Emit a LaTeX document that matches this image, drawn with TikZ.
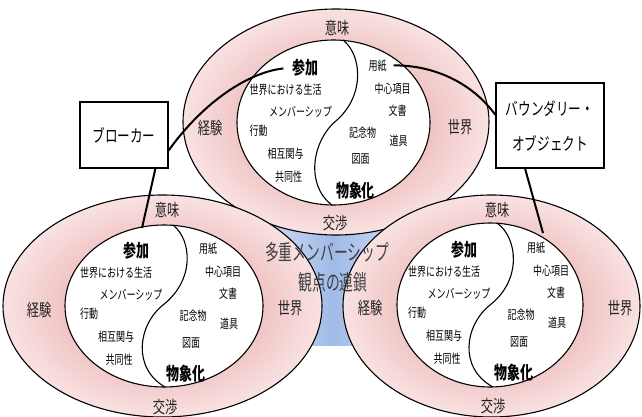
\documentclass[tikz,border=0pt]{standalone}
\usepackage{fontspec}
\newfontfamily\jp[FakeStretch=0.72]{Noto Sans CJK JP}
\newfontfamily\jpc[FakeStretch=0.64]{Noto Sans CJK JP}
\definecolor{pinkin}{RGB}{226,146,146}
\definecolor{pinkout}{RGB}{249,226,226}
\definecolor{blueM}{RGB}{160,187,232}
\definecolor{blueE}{RGB}{205,218,242}
\definecolor{ringtext}{RGB}{35,35,35}
\tikzset{
  ring/.style={draw=black, line width=1.1pt, inner color=pinkin, outer color=pinkout},
  hole/.style={draw=black, line width=1.1pt, fill=white},
  scurve/.style={draw=black, line width=1.1pt},
  smalltxt/.style={inner sep=0pt, font=\jp\fontsize{12.5}{13}\selectfont},
  bigtxt/.style={inner sep=0pt, font=\jp\bfseries\fontsize{18}{19}\selectfont},
  ringlbl/.style={inner sep=0pt, text=ringtext, font=\jp\fontsize{17}{18}\selectfont},
  boxstyle/.style={draw=black, line width=1.3pt, fill=white, inner sep=0pt, font=\jp\fontsize{17.5}{18}\selectfont},
  conn/.style={draw=black, line width=2pt},
  centertxt/.style={inner sep=0pt, text=black!75, font=\jpc\fontsize{21.5}{22}\selectfont},
}
\newcommand\innertexts[3]{%
  \node[bigtxt]   (#1sanka)  at (#2-28,#3-55) {参加};
  \node[smalltxt] (#1seikatsu) at (#2-48,#3-33) {世界における生活};
  \node[smalltxt] (#1member) at (#2-33,#3-11) {メンバーシップ};
  \node[smalltxt] (#1kodo)   at (#2-75,#3+8)  {行動};
  \node[smalltxt] (#1sogo)   at (#2-48,#3+31) {相互関与};
  \node[smalltxt] (#1kyodo)  at (#2-45,#3+54) {共同性};
  \node[smalltxt] (#1yoshi)  at (#2+44,#3-57) {用紙};
  \node[smalltxt] (#1chushin) at (#2+59,#3-34) {中心項目};
  \node[smalltxt] (#1bunsho) at (#2+64,#3-12) {文書};
  \node[smalltxt] (#1kinen)  at (#2+29,#3+10) {記念物};
  \node[smalltxt] (#1dogu)   at (#2+65,#3+18) {道具};
  \node[smalltxt] (#1zumen)  at (#2+27,#3+37) {図面};
  \node[bigtxt]   (#1busho)  at (#2+22,#3+68) {物象化};
}
\begin{document}
\begin{tikzpicture}[x=1pt,y=-1pt]
\path[use as bounding box, fill=white] (0,0) rectangle (642,417);
% blue background
\shade[left color=blueE, right color=blueE, middle color=blueM] (268,215) rectangle (398,345);
% top
\path[ring] (336,122) ellipse [x radius=153, y radius=113];
\path[hole] (333.5,122.5) ellipse [x radius=96.5, y radius=82.5];
\draw[scurve] (343,40) .. controls (362,55) and (365,95) .. (337,120) .. controls (312,140) and (305,185) .. (332,205);
% bottom left
\path[ring] (162.5,306) ellipse [x radius=159.5, y radius=111];
\path[hole] (164,306) ellipse [x radius=99, y radius=81];
\draw[scurve] (173,225) .. controls (192,240) and (195,280) .. (163,305) .. controls (138,325) and (132,368) .. (165,387);
% bottom right
\path[ring] (491.5,306) ellipse [x radius=148.5, y radius=111];
\path[hole] (490,305) ellipse [x radius=93, y radius=82];
\draw[scurve] (497,223) .. controls (518,238) and (522,280) .. (490,305) .. controls (465,325) and (458,368) .. (493,387);
% ring labels
\node[ringlbl] (Timi) at (337,28) {意味};
\node[ringlbl] (Tkeiken) at (210,128) {経験};
\node[ringlbl] (Tsekai) at (460,127) {世界};
\node[ringlbl] (Tkosho) at (335,223) {交渉};
\node[ringlbl] (Limi) at (167,210) {意味};
\node[ringlbl] (Lkeiken) at (39,310) {経験};
\node[ringlbl] (Lsekai) at (290,308) {世界};
\node[ringlbl] (Lkosho) at (165,407) {交渉};
\node[ringlbl] (Rimi) at (497,210) {意味};
\node[ringlbl] (Rkeiken) at (370,308) {経験};
\node[ringlbl] (Rsekai) at (620,308) {世界};
\node[ringlbl] (Rkosho) at (493,406) {交渉};
% inner texts
\innertexts{T}{333.5}{122.5}
\innertexts{L}{164}{306}
\innertexts{R}{492}{305}
% center text
\node[centertxt] (multi) at (327,252) {多重メンバーシップ};
\node[centertxt] (chain) at (333,282) {観点の連鎖};
% boxes
\node[boxstyle, minimum width=88pt, minimum height=66pt] (broker) at (124,135) {ブローカー};
\node[boxstyle, minimum width=108pt, minimum height=85pt, align=center, font=\jp\fontsize{17.5}{35}\selectfont] (bo) at (550,125.5) {バウンダリー・\\オブジェクト};
\coordinate (Lend) at (142,228);
\coordinate (Rend) at (543,233);
% connectors
\draw[conn, shorten >=9pt] (broker.-19) .. controls (205,100) and (250,72) .. (Tsanka.west);
\draw[conn] (broker.-47) -- (Lend);
\draw[conn, shorten >=7pt] (bo.169) .. controls (470,80) and (430,65) .. (Tyoshi.east);
\draw[conn] (bo.-120) -- (Rend);
\end{tikzpicture}
\end{document}
